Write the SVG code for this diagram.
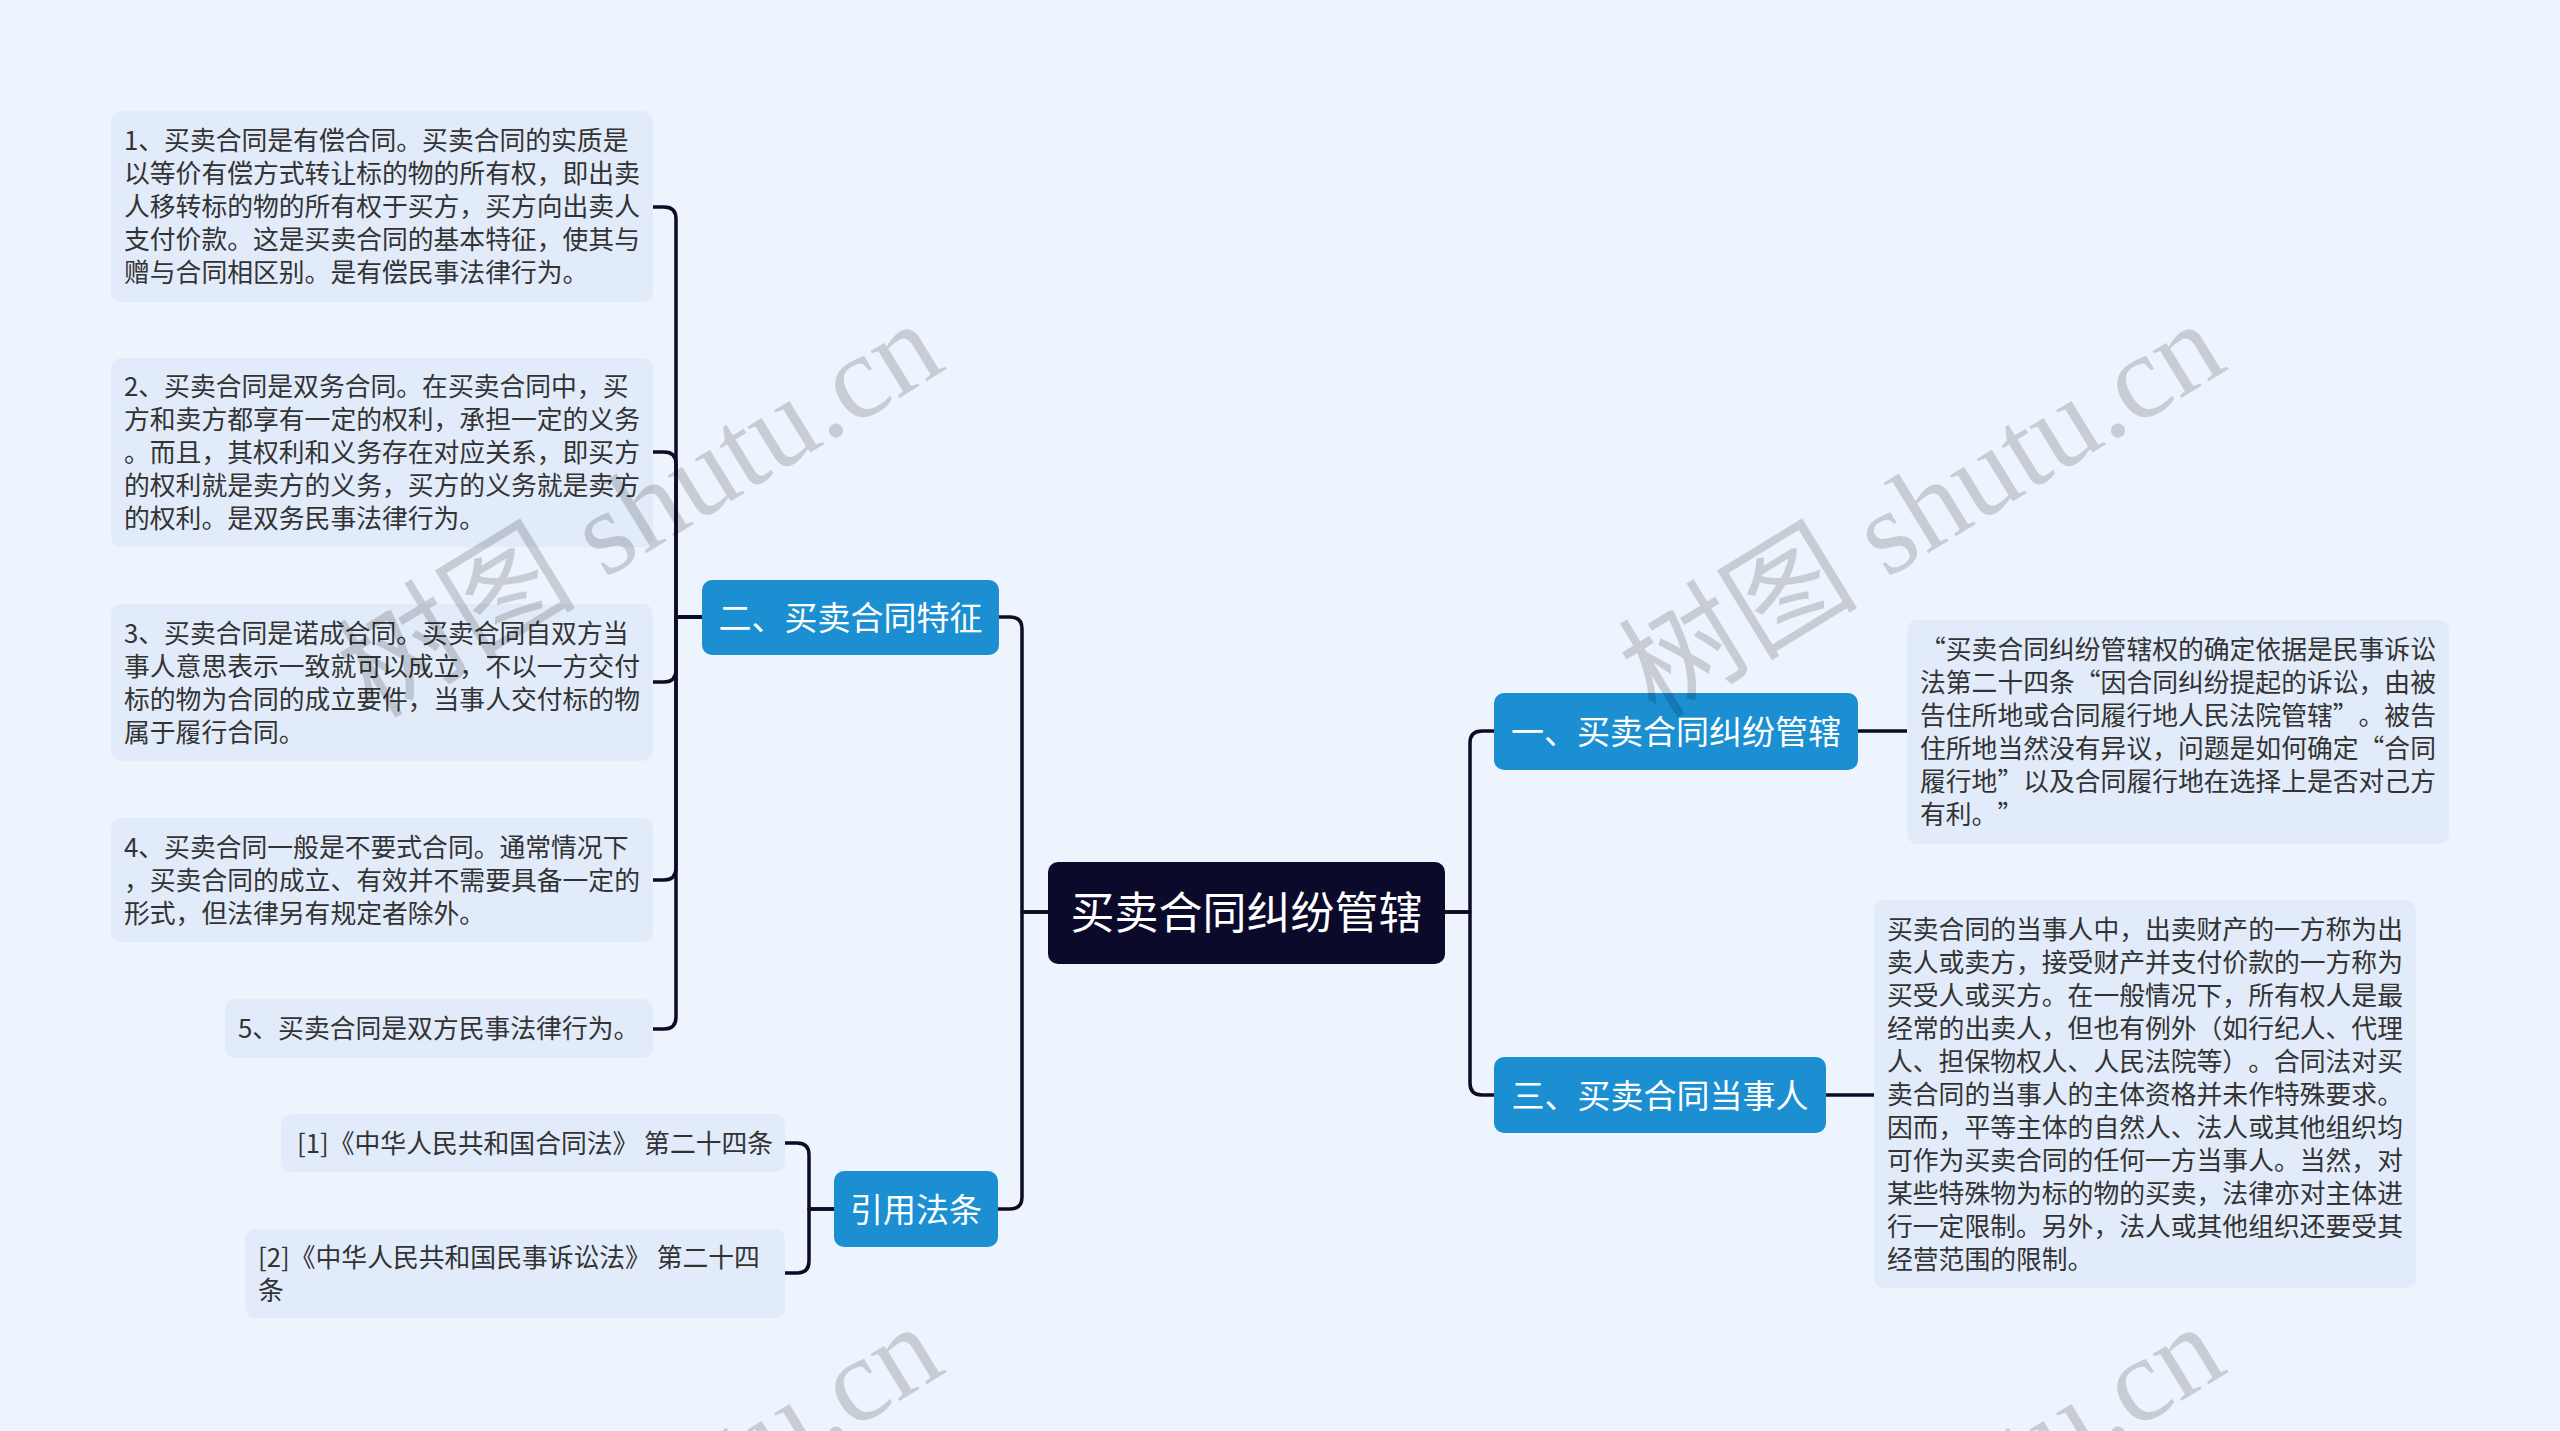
<svg xmlns="http://www.w3.org/2000/svg" width="2560" height="1431" viewBox="0 0 2560 1431">
<style>
.bg{fill:#EEF4FE}
.box{fill:#E2EBFA}
.br{fill:#1B8FD2}
.ctr{fill:#0B0A2B}
.t{font-family:"Noto Sans CJK SC","Noto Sans",sans-serif;font-size:25.8px;fill:#333;text-spacing-trim:space-all}
.bt{font-family:"Noto Sans CJK SC","Noto Sans",sans-serif;font-size:33px;fill:#fff}
.ct{font-family:"Noto Sans CJK SC","Noto Sans",sans-serif;font-size:44px;fill:#fff}
.con{fill:none;stroke:#0D0B26;stroke-width:3.5;stroke-linejoin:round}
.wm{font-family:"Liberation Serif","Noto Sans CJK SC",serif;font-size:120px;fill:#000;fill-opacity:0.16}
</style>
<rect class="bg" x="0" y="0" width="2560" height="1431"/>
<g id="connectors">
<path class="con" d="M1048 912 H1022 V629 Q1022 617 1010 617 H999"/>
<path class="con" d="M1048 912 H1022 V1197 Q1022 1209 1010 1209 H998"/>
<path class="con" d="M1445 912 H1470 V743 Q1470 731 1482 731 H1494"/>
<path class="con" d="M1445 912 H1470 V1083 Q1470 1095 1482 1095 H1494"/>
<path class="con" d="M1858 731 H1907"/>
<path class="con" d="M1826 1095 H1874"/>
<path class="con" d="M702 617 H676 V219 Q676 207 664 207 H653"/>
<path class="con" d="M702 617 H676 V464 Q676 452 664 452 H653"/>
<path class="con" d="M702 617 H676 V670 Q676 682 664 682 H653"/>
<path class="con" d="M702 617 H676 V868 Q676 880 664 880 H653"/>
<path class="con" d="M702 617 H676 V1017 Q676 1029 664 1029 H653"/>
<path class="con" d="M834 1209 H809 V1155 Q809 1143 797 1143 H785"/>
<path class="con" d="M834 1209 H809 V1261 Q809 1273 797 1273 H785"/>
</g>
<g id="center">
<rect class="ctr" x="1048" y="862" width="397" height="102" rx="10"/>
<text class="ct" x="1246.5" y="929" text-anchor="middle">买卖合同纠纷管辖</text>
</g>
<g id="branch-1">
<rect class="br" x="1494" y="693" width="364" height="77" rx="10"/>
<text class="bt" x="1676" y="744" text-anchor="middle">一、买卖合同纠纷管辖</text>
</g>
<g id="branch-3">
<rect class="br" x="1494" y="1057" width="332" height="76" rx="10"/>
<text class="bt" x="1660" y="1107.5" text-anchor="middle">三、买卖合同当事人</text>
</g>
<g id="branch-2">
<rect class="br" x="702" y="580" width="297" height="75" rx="10"/>
<text class="bt" x="850.5" y="630" text-anchor="middle">二、买卖合同特征</text>
</g>
<g id="branch-ref">
<rect class="br" x="834" y="1171" width="164" height="76" rx="10"/>
<text class="bt" x="916" y="1221.5" text-anchor="middle">引用法条</text>
</g>
<g id="leaf-r1">
<rect class="box" x="1907" y="620" width="542" height="224" rx="10"/>
<text class="t">
<tspan x="1920" y="659">“买卖合同纠纷管辖权的确定依据是民事诉讼</tspan>
<tspan x="1920" y="692">法第二十四条“因合同纠纷提起的诉讼，由被</tspan>
<tspan x="1920" y="725">告住所地或合同履行地人民法院管辖”。被告</tspan>
<tspan x="1920" y="758">住所地当然没有异议，问题是如何确定“合同</tspan>
<tspan x="1920" y="791">履行地”以及合同履行地在选择上是否对己方</tspan>
<tspan x="1920" y="824">有利。”</tspan>
</text>
</g>
<g id="leaf-r3">
<rect class="box" x="1874" y="900" width="542" height="388" rx="10"/>
<text class="t">
<tspan x="1887" y="939">买卖合同的当事人中，出卖财产的一方称为出</tspan>
<tspan x="1887" y="972">卖人或卖方，接受财产并支付价款的一方称为</tspan>
<tspan x="1887" y="1005">买受人或买方。在一般情况下，所有权人是最</tspan>
<tspan x="1887" y="1038">经常的出卖人，但也有例外（如行纪人、代理</tspan>
<tspan x="1887" y="1071">人、担保物权人、人民法院等）。合同法对买</tspan>
<tspan x="1887" y="1104">卖合同的当事人的主体资格并未作特殊要求。</tspan>
<tspan x="1887" y="1137">因而，平等主体的自然人、法人或其他组织均</tspan>
<tspan x="1887" y="1170">可作为买卖合同的任何一方当事人。当然，对</tspan>
<tspan x="1887" y="1203">某些特殊物为标的物的买卖，法律亦对主体进</tspan>
<tspan x="1887" y="1236">行一定限制。另外，法人或其他组织还要受其</tspan>
<tspan x="1887" y="1269">经营范围的限制。</tspan>
</text>
</g>
<g id="leaf-l1">
<rect class="box" x="111" y="111" width="542" height="191" rx="10"/>
<text class="t">
<tspan x="124" y="150">1、买卖合同是有偿合同。买卖合同的实质是</tspan>
<tspan x="124" y="183">以等价有偿方式转让标的物的所有权，即出卖</tspan>
<tspan x="124" y="216">人移转标的物的所有权于买方，买方向出卖人</tspan>
<tspan x="124" y="249">支付价款。这是买卖合同的基本特征，使其与</tspan>
<tspan x="124" y="282">赠与合同相区别。是有偿民事法律行为。</tspan>
</text>
</g>
<g id="leaf-l2">
<rect class="box" x="111" y="358" width="542" height="189" rx="10"/>
<text class="t">
<tspan x="124" y="396">2、买卖合同是双务合同。在买卖合同中，买</tspan>
<tspan x="124" y="429">方和卖方都享有一定的权利，承担一定的义务</tspan>
<tspan x="124" y="462">。而且，其权利和义务存在对应关系，即买方</tspan>
<tspan x="124" y="495">的权利就是卖方的义务，买方的义务就是卖方</tspan>
<tspan x="124" y="528">的权利。是双务民事法律行为。</tspan>
</text>
</g>
<g id="leaf-l3">
<rect class="box" x="111" y="604" width="542" height="157" rx="10"/>
<text class="t">
<tspan x="124" y="642.5">3、买卖合同是诺成合同。买卖合同自双方当</tspan>
<tspan x="124" y="675.5">事人意思表示一致就可以成立，不以一方交付</tspan>
<tspan x="124" y="708.5">标的物为合同的成立要件，当事人交付标的物</tspan>
<tspan x="124" y="741.5">属于履行合同。</tspan>
</text>
</g>
<g id="leaf-l4">
<rect class="box" x="111" y="818" width="542" height="124" rx="10"/>
<text class="t">
<tspan x="124" y="856.5">4、买卖合同一般是不要式合同。通常情况下</tspan>
<tspan x="124" y="889.5">，买卖合同的成立、有效并不需要具备一定的</tspan>
<tspan x="124" y="922.5">形式，但法律另有规定者除外。</tspan>
</text>
</g>
<g id="leaf-l5">
<rect class="box" x="225" y="999" width="428" height="59" rx="10"/>
<text class="t" x="238" y="1038">5、买卖合同是双方民事法律行为。</text>
</g>
<g id="leaf-ref1">
<rect class="box" x="281" y="1114" width="504" height="58" rx="10"/>
<text class="t" x="297" y="1152.5">[1]《中华人民共和国合同法》 第二十四条</text>
</g>
<g id="leaf-ref2">
<rect class="box" x="245" y="1229" width="540" height="89" rx="10"/>
<text class="t">
<tspan x="258" y="1266.5">[2]《中华人民共和国民事诉讼法》 第二十四</tspan>
<tspan x="258" y="1299.5">条</tspan>
</text>
</g>
<g id="watermarks">
<text class="wm" transform="translate(374 720) rotate(-31.5)">树图 shutu.cn</text>
<text class="wm" transform="translate(1656 720) rotate(-31.5)">树图 shutu.cn</text>
<text class="wm" transform="translate(374 1723) rotate(-31.5)">树图 shutu.cn</text>
<text class="wm" transform="translate(1656 1723) rotate(-31.5)">树图 shutu.cn</text>
</g>
</svg>
